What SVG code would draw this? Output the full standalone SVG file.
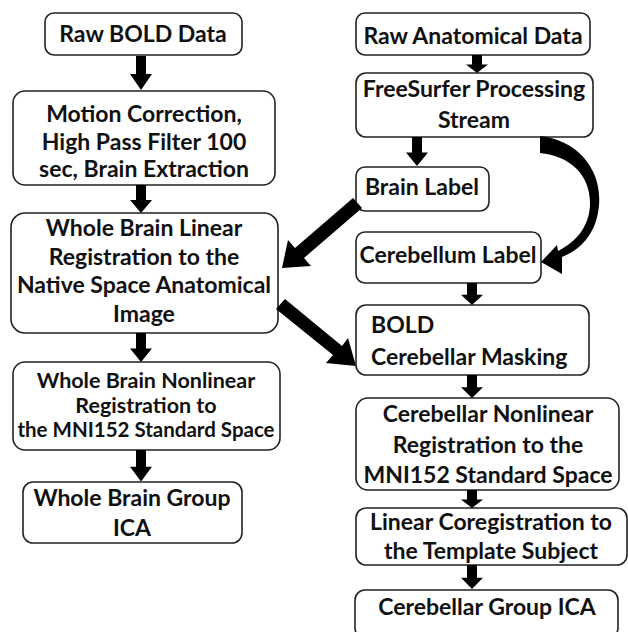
<svg xmlns="http://www.w3.org/2000/svg" width="628" height="632" viewBox="0 0 628 632">
<defs>
<style>
.box{fill:#fff;stroke:#222;stroke-width:1.6}
text{font-family:Lato,"Open Sans",sans-serif;font-weight:bold;font-size:23px;fill:#111;text-anchor:middle}
.l{text-anchor:start}
.s{font-size:20.5px}
.arr{fill:#000}
</style>
<g id="dn"><path d="M-5,0 H5 V16 H11 L0,30 L-11,16 H-5 Z"/></g>
</defs>
<rect width="628" height="632" fill="#fff"/>
<g id="n1"><rect class="box" x="45" y="13" width="197" height="42" rx="9"/><text x="143" y="42">Raw BOLD Data</text></g>
<g id="n2"><rect class="box" x="13" y="91" width="262" height="94" rx="12"/><text x="144" y="122">Motion Correction,</text><text x="144" y="150">High Pass Filter 100</text><text x="144" y="177">sec, Brain Extraction</text></g>
<g id="n3"><rect class="box" x="11" y="213" width="267" height="120" rx="14"/><text x="144" y="236">Whole Brain Linear</text><text x="144" y="265">Registration to the</text><text x="144" y="293">Native Space Anatomical</text><text x="144" y="322">Image</text></g>
<g id="n4"><rect class="box" x="13" y="362" width="267" height="88" rx="12"/><text class="s" x="146" y="388" style="font-size:21.5px">Whole Brain Nonlinear</text><text class="s" x="146" y="413" style="font-size:21.5px">Registration to</text><text class="s" x="146" y="437">the MNI152 Standard Space</text></g>
<g id="n5"><rect class="box" x="23" y="482" width="219" height="61" rx="10"/><text x="132" y="506">Whole Brain Group</text><text x="132" y="536">ICA</text></g>
<g id="n6"><rect class="box" x="356" y="13" width="234" height="42" rx="9"/><text x="473" y="44">Raw Anatomical Data</text></g>
<g id="n7"><rect class="box" x="356" y="73" width="237" height="64" rx="10"/><text x="474" y="97">FreeSurfer Processing</text><text x="474" y="128">Stream</text></g>
<g id="n8"><rect class="box" x="356" y="167" width="133" height="44" rx="9"/><text x="422" y="195">Brain Label</text></g>
<g id="n9"><rect class="box" x="356" y="232" width="185" height="51" rx="9"/><text x="448" y="263">Cerebellum Label</text></g>
<g id="n10"><rect class="box" x="356" y="305" width="233" height="70" rx="10"/><text class="l" x="371" y="333">BOLD</text><text class="l" x="371" y="365">Cerebellar Masking</text></g>
<g id="n11"><rect class="box" x="356" y="398" width="263" height="92" rx="12"/><text x="488" y="422">Cerebellar Nonlinear</text><text x="488" y="453">Registration to the</text><text x="488" y="483">MNI152 Standard Space</text></g>
<g id="n12"><rect class="box" x="356" y="508" width="271" height="57" rx="10"/><text x="491" y="530">Linear Coregistration to</text><text x="491" y="559">the Template Subject</text></g>
<g id="n13"><rect class="box" x="355" y="590" width="263" height="48" rx="10"/><text x="487" y="615">Cerebellar Group ICA</text></g>
<g id="connectors" class="arr">
<use href="#dn" transform="translate(141,56) scale(1,1.13)"/>
<use href="#dn" transform="translate(141,185) scale(1,0.93)"/>
<use href="#dn" transform="translate(141,333) scale(1,0.97)"/>
<use href="#dn" transform="translate(141,450) scale(1,1.05)"/>
<use href="#dn" transform="translate(477,55) scale(1,0.6)"/>
<use href="#dn" transform="translate(417,137) scale(1,0.97)"/>
<use href="#dn" transform="translate(472,283) scale(1,0.73)"/>
<use href="#dn" transform="translate(472,375) scale(1,0.77)"/>
<use href="#dn" transform="translate(472,490) scale(1,0.6)"/>
<use href="#dn" transform="translate(472,565) scale(1,0.8)"/>
<path d="M353,198 L362,208 L304,258 L311,266 L282,268 L288,240 L295,248 Z"/>
<path d="M285,299 L276,309 L333,355 L326,363 L356,366 L348,338 L342,346 Z"/>
<path d="M540,136 C578,140 602,170 599,205 C597,232 582,249 562,257 L562,274 L541,262 L557,245 L558,251 C576,242 589,227 590,205 C591,175 570,156 540,153 Z"/>
</g>
</svg>
